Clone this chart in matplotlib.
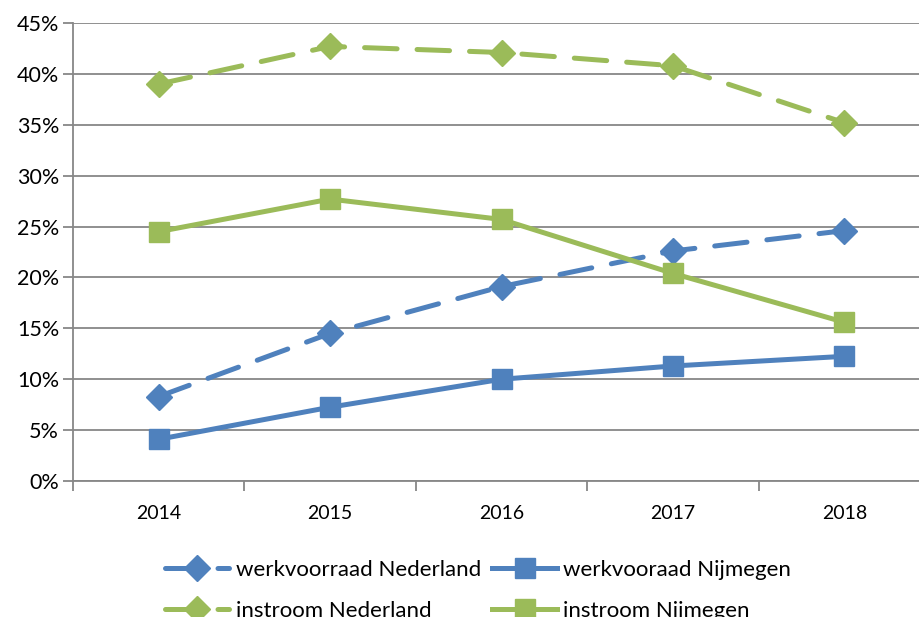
import numpy as np
import matplotlib.pyplot as plt
from matplotlib.ticker import FuncFormatter, FixedLocator

plt.rcParams['font.family'] = ['Lato', 'DejaVu Sans']

jaren = ["2014", "2015", "2016", "2017", "2018"]
werkvoorraad_nl = [0.083, 0.145, 0.191, 0.226, 0.246]
werkvoorraad_nijm = [0.041, 0.0725, 0.100, 0.113, 0.1225]
instroom_nl = [0.390, 0.427, 0.421, 0.408, 0.352]
instroom_nijm = [0.245, 0.277, 0.257, 0.204, 0.156]

blauw = "#4F81BD"
groen = "#9BBB59"
grijs = "#878787"

W, H = 919, 617
fig = plt.figure(figsize=(W / 100, H / 100), dpi=100)
ax = fig.add_axes([73 / W, (H - 481) / H, (930 - 73) / W, (481 - 23) / H])

x = np.arange(len(jaren))
lw = 3.6
streep = (0, (6.5, 4))
l1, = ax.plot(x, werkvoorraad_nl, color=blauw, lw=lw, ls=streep, dash_capstyle="round",
              marker="D", ms=13, label="werkvoorraad Nederland", zorder=3)
l2, = ax.plot(x, werkvoorraad_nijm, color=blauw, lw=lw, marker="s", ms=15,
              label="werkvooraad Nijmegen", zorder=3)
l3, = ax.plot(x, instroom_nl, color=groen, lw=lw, ls=streep, dash_capstyle="round",
              marker="D", ms=13, label="instroom Nederland", zorder=3)
l4, = ax.plot(x, instroom_nijm, color=groen, lw=lw, marker="s", ms=15,
              label="instroom Nijmegen", zorder=3)

ax.set_xlim(-0.5, 4.5)
ax.set_ylim(0, 0.45)
ax.set_yticks(np.arange(0, 0.451, 0.05))
ax.yaxis.set_major_formatter(FuncFormatter(lambda v, p: f"{v*100:.0f}%"))
ax.grid(axis="y", color=grijs, lw=1.3)
ax.set_axisbelow(True)

ax.set_xticks(x)
ax.set_xticklabels(jaren)
ax.xaxis.set_minor_locator(FixedLocator(np.arange(-0.5, 4.6, 1)))
ax.tick_params(axis="x", which="major", length=0, pad=17, labelsize=14)
ax.tick_params(axis="x", which="minor", length=7, color=grijs, width=1.3)
ax.tick_params(axis="y", length=7, color=grijs, width=1.3, labelsize=15.5, pad=3)

for s in ["top", "right"]:
    ax.spines[s].set_visible(False)
for s in ["left", "bottom"]:
    ax.spines[s].set_color(grijs)
    ax.spines[s].set_linewidth(1.3)

# volgorde zodat de rijen net als in het origineel lopen
fig.legend([l1, l3, l2, l4], [l.get_label() for l in [l1, l3, l2, l4]],
           loc="upper left", bbox_to_anchor=(156 / W, (H - 551) / H), ncol=2,
           frameon=False, fontsize=16, handlelength=2.9, handletextpad=0.3,
           columnspacing=0.5, labelspacing=0.95, borderaxespad=0)

fig.savefig("out.png", dpi=100)
